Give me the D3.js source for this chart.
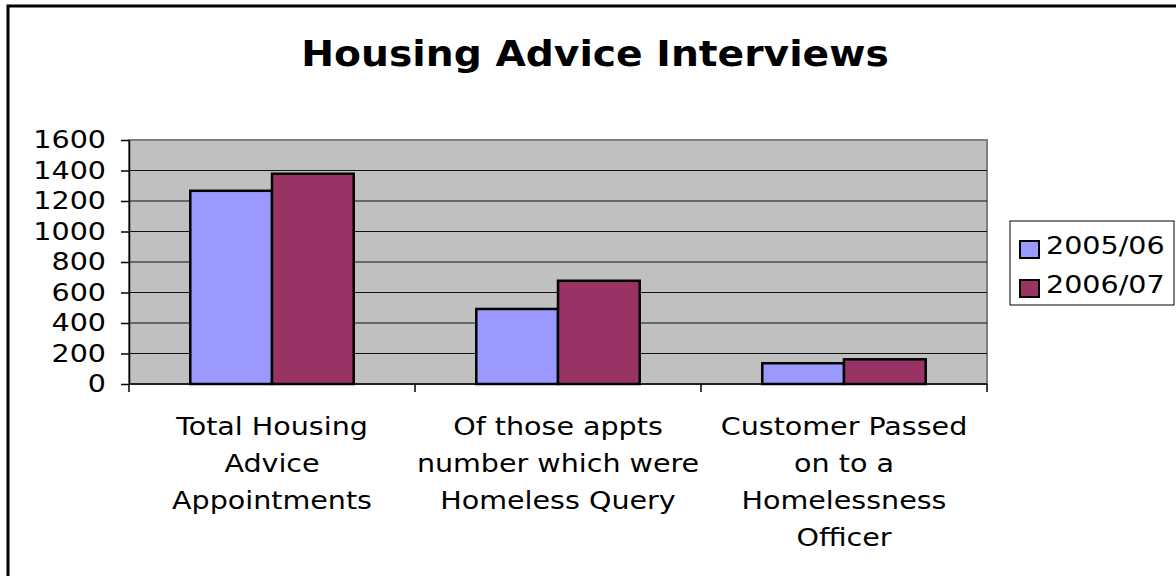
<!DOCTYPE html>
<html>
<head>
<meta charset="utf-8">
<script src="https://cdn.jsdelivr.net/npm/d3@7"></script>
<style>
  body { margin: 0; background: #fff; }
  svg { display: block; font-family: Verdana, "DejaVu Sans", sans-serif; }
</style>
</head>
<body>
<svg></svg>
<script>
const width = 1176;
const height = 576;

// data
const categories = [
    ["Total Housing", "Advice", "Appointments"],
    ["Of those appts", "number which were", "Homeless Query"],
    ["Customer Passed", "on to a", "Homelessness", "Officer"]
];
const seriesNames = ["2005/06", "2006/07"];
const values2005 = [1267, 492, 136];
const values2006 = [1379, 677, 162];
const yTicks = [0, 200, 400, 600, 800, 1000, 1200, 1400, 1600];
const colors = ["#9999ff", "#993366"];

const plot = {left: 129, right: 987, top: 140, bottom: 384};
const stretch = 1.19; // the original picture is a bit wider than tall

const svg = d3.select('svg')
    .attr('width', width).attr('height', height);

// outer chart border (only top and left visible)
svg.append('rect')
    .attr('x', 8).attr('y', 6)
    .attr('width', width + 20).attr('height', height + 20)
    .attr('fill', '#fff')
    .attr('stroke', '#000')
    .attr('stroke-width', 3);

svg.append('text')
    .attr('transform', 'translate(595,66) scale(1.09,1)')
    .attr('text-anchor', 'middle')
    .style('font-size', '36px')
    .style('font-weight', 'bold')
    .text('Housing Advice Interviews');

const x = d3.scaleBand()
    .domain(d3.range(categories.length))
    .range([plot.left, plot.right]);

const y = d3.scaleLinear()
    .domain([0, 1600])
    .range([plot.bottom, plot.top]);

// plot background
svg.append('rect')
    .attr('x', plot.left).attr('y', plot.top)
    .attr('width', plot.right - plot.left).attr('height', plot.bottom - plot.top)
    .attr('fill', '#c0c0c0')
    .attr('stroke', '#808080')
    .attr('stroke-width', 2);

// gridlines
svg.append('g')
    .selectAll('line')
    .data(yTicks.slice(1, -1))
    .enter().append('line')
    .attr('x1', plot.left).attr('x2', plot.right)
    .attr('y1', d => y(d)).attr('y2', d => y(d))
    .attr('stroke', '#111')
    .attr('stroke-width', 1.2);

// bars
const barW = x.bandwidth() / 3.5;
const series = [values2005, values2006];
series.forEach((vals, s) => {
    svg.append('g')
        .selectAll('rect')
        .data(vals)
        .enter().append('rect')
        .attr('x', (d, i) => x(i) + barW * 0.75 + s * barW)
        .attr('y', d => y(d))
        .attr('width', barW)
        .attr('height', d => plot.bottom - y(d))
        .attr('fill', colors[s])
        .attr('stroke', '#000')
        .attr('stroke-width', 2.5);
});

// y axis
const yAxis = svg.append('g')
    .attr('transform', `translate(${plot.left},0)`)
    .call(d3.axisLeft(y).tickValues(yTicks).tickFormat(d3.format('d'))
        .tickSize(8).tickPadding(0).tickSizeOuter(0));
yAxis.select('.domain').attr('stroke', '#000').attr('stroke-width', 1.5);
yAxis.selectAll('.tick line').attr('stroke', '#000').attr('stroke-width', 1.5);
yAxis.selectAll('.tick text')
    .attr('fill', '#000')
    .attr('x', null)
    .attr('transform', `translate(-23,0) scale(${stretch},1)`)
    .style('font-size', '24px')
    .style('font-family', 'Verdana, "DejaVu Sans", sans-serif');

// x axis
const xAxisLine = svg.append('g');
xAxisLine.append('line')
    .attr('x1', plot.left).attr('x2', plot.right)
    .attr('y1', plot.bottom).attr('y2', plot.bottom)
    .attr('stroke', '#000').attr('stroke-width', 1.5);
xAxisLine.selectAll('.xtick')
    .data(d3.range(categories.length + 1))
    .enter().append('line')
    .attr('x1', i => plot.left + i * x.step())
    .attr('x2', i => plot.left + i * x.step())
    .attr('y1', plot.bottom).attr('y2', plot.bottom + 8)
    .attr('stroke', '#000').attr('stroke-width', 1.5);

const catLabels = svg.append('g')
    .selectAll('text')
    .data(categories)
    .enter().append('text')
    .attr('transform', (d, i) => `translate(${x(i) + x.bandwidth() / 2},435) scale(${stretch},1)`)
    .attr('text-anchor', 'middle')
    .style('font-size', '24px');
catLabels.each(function (lines) {
    d3.select(this).selectAll('tspan')
        .data(lines)
        .enter().append('tspan')
        .attr('x', 0)
        .attr('y', (d, k) => k * 36.9)
        .text(d => d);
});

// legend
const legend = svg.append('g');
legend.append('rect')
    .attr('x', 1010).attr('y', 221)
    .attr('width', 164).attr('height', 84)
    .attr('fill', '#fff')
    .attr('stroke', '#000')
    .attr('stroke-width', 1);
seriesNames.forEach((name, s) => {
    legend.append('rect')
        .attr('x', 1020).attr('y', 241 + s * 39)
        .attr('width', 19).attr('height', 17)
        .attr('fill', colors[s])
        .attr('stroke', '#000')
        .attr('stroke-width', 2);
    legend.append('text')
        .attr('transform', `translate(1046,${254 + s * 39}) scale(${stretch},1)`)
        .style('font-size', '24px')
        .text(name);
});
</script>
</body>
</html>
